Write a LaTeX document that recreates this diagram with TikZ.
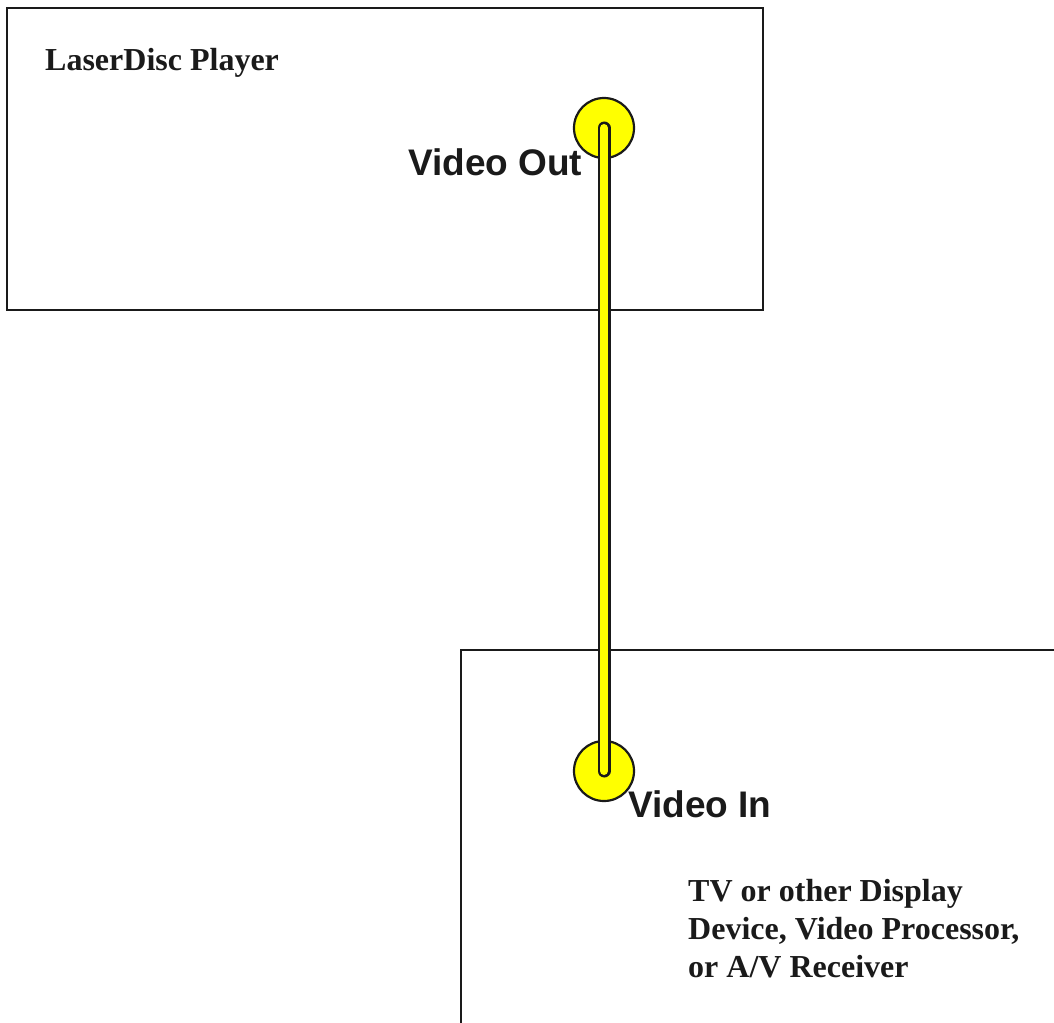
\documentclass[tikz,border=0pt]{standalone}
\usepackage{fontspec}
\setmainfont{Liberation Serif}
\setsansfont{Liberation Sans}
\definecolor{ink}{HTML}{1A1A1A}
\definecolor{jack}{HTML}{FFFF00}
\tikzset{
  device/.style={draw=ink, line width=2.2pt},
  port/.style={circle, draw=ink, fill=jack, line width=2.2pt, minimum size=60pt, inner sep=0pt},
  portlabel/.style={font=\sffamily\bfseries\fontsize{37}{40}\selectfont, text=ink, inner sep=0pt, anchor=base west},
  devlabel/.style={font=\rmfamily\bfseries\fontsize{32}{38}\selectfont, text=ink, inner sep=0pt, align=left},
}
\begin{document}
\begin{tikzpicture}[x=1pt, y=-1pt]
\useasboundingbox (0,0) rectangle (1054,1022);
% the two devices
\draw[device] (7,8) rectangle (763,310);
\draw[device] (461,650) rectangle (1070,1040);
\node[devlabel, anchor=base west] (ld) at (45,71) {LaserDisc Player};
\node[devlabel, anchor=north west] (tv) at (688,879) {TV or other Display\\Device, Video Processor,\\or A/V Receiver};
% jacks
\node[port] (out) at (604,128) {};
\node[port] (in) at (604,771) {};
\node[portlabel] (outl) at (408,175) {Video Out};
\node[portlabel] (inl) at (628,817) {Video In};
% cable
\draw[ink, line width=13pt, line cap=round] (out.center) -- (in.center);
\draw[jack, line width=8pt, line cap=round] (out.center) -- (in.center);
\end{tikzpicture}
\end{document}
